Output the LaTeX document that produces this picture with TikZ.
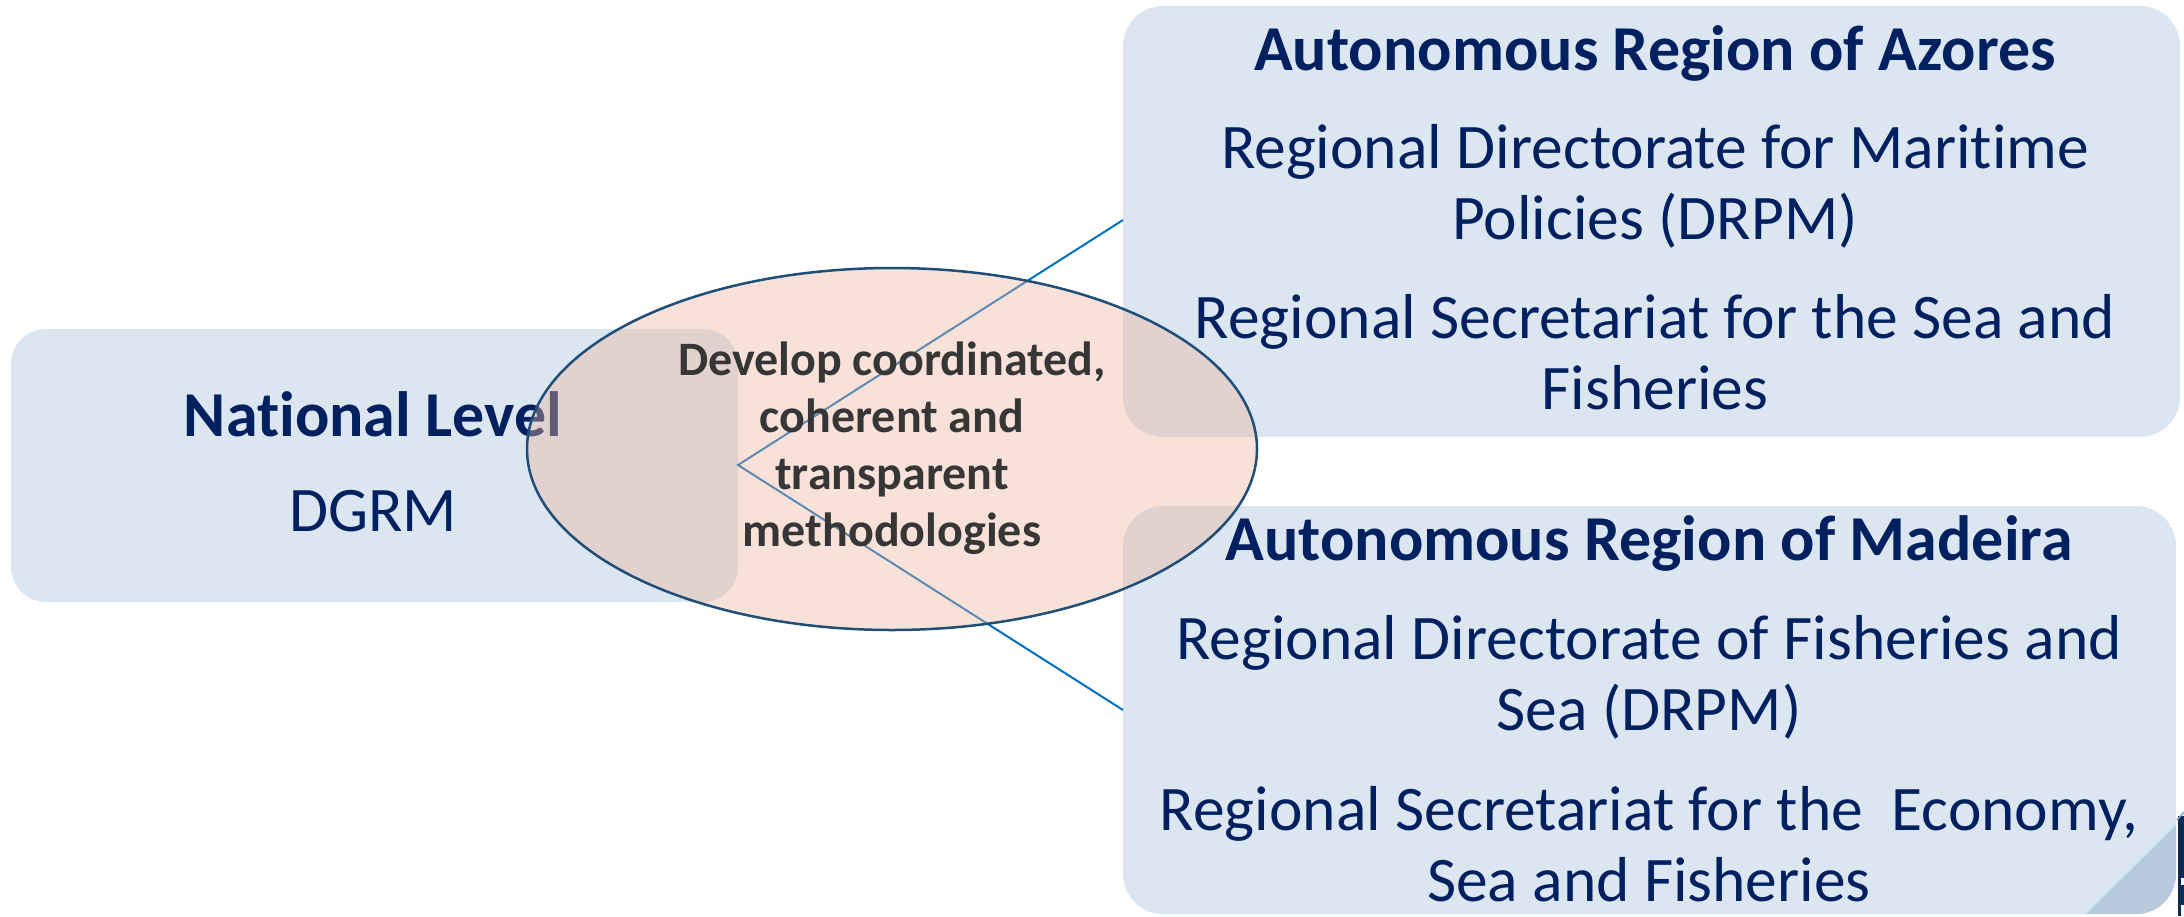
\documentclass[tikz,border=0pt]{standalone}
\usepackage{fontspec}
\setmainfont{Carlito}[Ligatures=NoCommon]
\usetikzlibrary{shapes.geometric}
\definecolor{boxfill}{HTML}{DCE6F1}
\definecolor{navytext}{HTML}{002060}
\definecolor{ellfill}{HTML}{EDB49D}
\definecolor{ellline}{HTML}{1F4E79}
\definecolor{linkblue}{HTML}{0070C0}
\definecolor{darkgreytext}{HTML}{363636}
\definecolor{cornertri}{HTML}{B7C9DA}
\definecolor{cornernavy}{HTML}{0E2A4E}
\tikzset{
  panel/.style={fill=boxfill, draw=none, rounded corners=#1},
  panel/.default=40pt,
  titletext/.style={text=navytext, font=\bfseries\fontsize{64}{72}\selectfont, align=center, inner sep=0pt},
  bodytext/.style={text=navytext, font=\fontsize{63.5}{71}\selectfont, align=center, inner sep=0pt},
  link/.style={draw=linkblue, line width=2pt},
  goal/.style={ellipse, fill=ellfill, fill opacity=0.4, draw=ellline, draw opacity=1, line width=2.5pt, minimum width=730pt, minimum height=362pt, inner sep=0pt},
  goaltext/.style={text=darkgreytext, font=\bfseries\fontsize{48}{57}\selectfont, align=center, inner sep=0pt}
}
\begin{document}
\begin{tikzpicture}[x=1pt,y=-1pt]
\useasboundingbox (0,0) rectangle (2184,916);
% panels
\path[panel=35pt] (11,329) rectangle (738,602);
\node[titletext] (natl) at (373,414) {National Level};
\node[bodytext] (dgrm) at (373,511) {DGRM};

\path[panel] (1123,6) rectangle (2180,437);
\node[coordinate] (azl) at (1123,220) {};
\node[titletext] (azt) at (1655,53) {Autonomous Region of Azores};
\node[bodytext] (az1) at (1655,186) {Regional Directorate for Maritime\\Policies (DRPM)};
\node[bodytext] (az2) at (1655,352) {Regional Secretariat for the Sea and\\Fisheries};

% corner decoration
\fill[cornernavy] (2178,816) rectangle (2184,916);
\draw[linkblue!60, line width=1.5pt] (2177,820) -- (2184,812);
\fill[white] (2181,878) rectangle (2184,885);
\fill[white] (2181,905) rectangle (2184,916);
\begin{scope}
\clip[rounded corners=40pt] (1123,506) rectangle (2176,914);
\path[panel] (1123,506) rectangle (2176,914);
\fill[cornertri] (2083,916) -- (2177,823) -- (2177,916) -- cycle;
\draw[cyan!25!white, line width=1.5pt] (2083,916) -- (2177,823);
\end{scope}
\node[coordinate] (mdl) at (1123,710) {};
\node[titletext] (mdt) at (1649,543) {Autonomous Region of Madeira};
\node[bodytext] (md1) at (1649,677) {Regional Directorate of Fisheries and\\Sea (DRPM)};
\node[bodytext] (md2) at (1649,844) {Regional Secretariat for the\ \ Economy,\\Sea and Fisheries};

% connectors
\node[coordinate] (hub) at (738,465) {};
\draw[link] (azl) -- (hub) -- (mdl);

% ellipse
\node[goal] (goal) at (892,449) {};
\node[goaltext] (goalt) at (892,448) {Develop coordinated,\\coherent and\\transparent\\methodologies};
\end{tikzpicture}
\end{document}
